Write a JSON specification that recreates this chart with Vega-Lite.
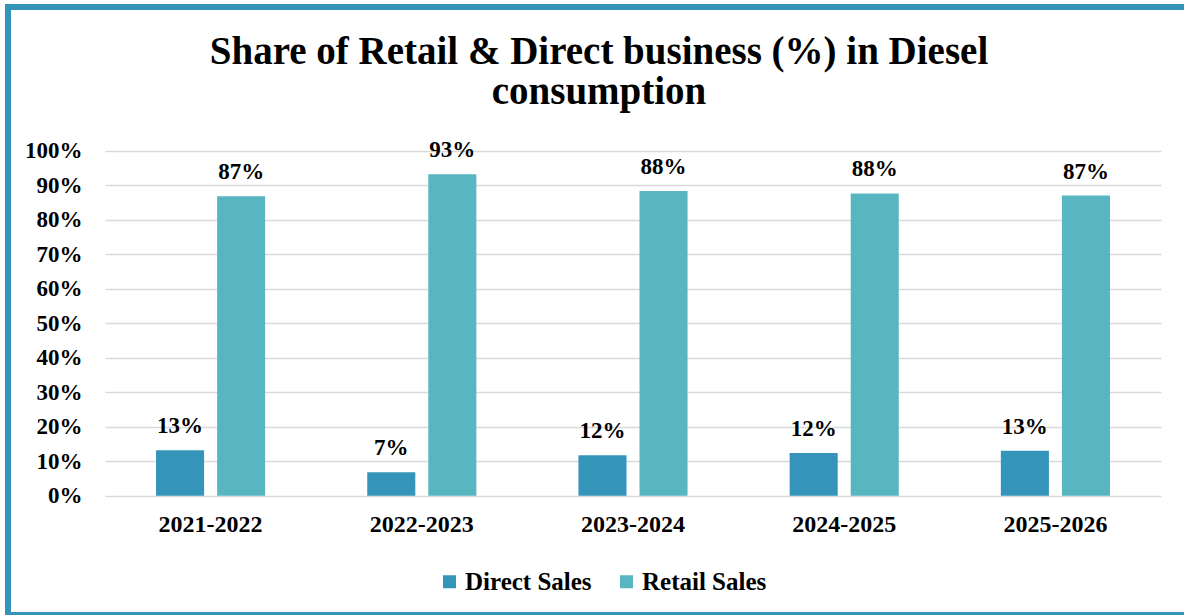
{
  "$schema": "https://vega.github.io/schema/vega-lite/v6.json",
  "autosize": {"type": "none"},
  "padding": {"left": 8, "top": 7, "right": 0, "bottom": 0},
  "width": 1182,
  "height": 608,
  "background": "white",
  "config": {
    "view": {"stroke": "#3494BA", "strokeWidth": 6},
    "font": "Liberation Serif"
  },
  "title": {
    "text": ["Share of Retail & Direct business (%) in Diesel", "consumption"],
    "font": "Liberation Serif",
    "fontSize": 39,
    "fontWeight": "bold",
    "color": "black",
    "anchor": "start",
    "align": "center",
    "frame": "group",
    "lineHeight": 40,
    "offset": -105,
    "dx": 591
  },
  "data": {
    "values": [
      {"year": "2021-2022", "series": "Direct Sales", "value": 0.132},
      {"year": "2021-2022", "series": "Retail Sales", "value": 0.868},
      {"year": "2022-2023", "series": "Direct Sales", "value": 0.068},
      {"year": "2022-2023", "series": "Retail Sales", "value": 0.932},
      {"year": "2023-2024", "series": "Direct Sales", "value": 0.117},
      {"year": "2023-2024", "series": "Retail Sales", "value": 0.883},
      {"year": "2024-2025", "series": "Direct Sales", "value": 0.124},
      {"year": "2024-2025", "series": "Retail Sales", "value": 0.876},
      {"year": "2025-2026", "series": "Direct Sales", "value": 0.130},
      {"year": "2025-2026", "series": "Retail Sales", "value": 0.870}
    ]
  },
  "encoding": {
    "x": {
      "field": "year",
      "type": "nominal",
      "sort": null,
      "scale": {"range": [97, 1153], "paddingInner": 0, "paddingOuter": 0},
      "axis": {
        "title": null,
        "orient": "bottom",
        "offset": -119.3,
        "labelAngle": 0,
        "labelFont": "Liberation Serif",
        "labelFontSize": 24,
        "labelFontWeight": "bold",
        "labelColor": "black",
        "labelPadding": 17,
        "domain": false,
        "ticks": false,
        "tickSize": 0,
        "grid": false
      }
    },
    "xOffset": {
      "field": "series",
      "type": "nominal",
      "scale": {"domain": ["Direct Sales", "Retail Sales"], "paddingInner": 0.213, "paddingOuter": 0.836}
    },
    "y": {
      "field": "value",
      "type": "quantitative",
      "scale": {"domain": [0, 1], "range": [488.7, 143.7], "nice": false, "zero": true},
      "axis": {
        "title": null,
        "offset": -74,
        "values": [0, 0.1, 0.2, 0.3, 0.4, 0.5, 0.6, 0.7, 0.8, 0.9, 1],
        "format": ".0%",
        "labelFont": "Liberation Serif",
        "labelFontSize": 23,
        "labelFontWeight": "bold",
        "labelColor": "black",
        "labelPadding": 0,
        "domain": false,
        "ticks": false,
        "tickSize": 0,
        "grid": true,
        "gridColor": "#D9D9D9",
        "gridWidth": 1.5
      }
    }
  },
  "layer": [
    {
      "mark": {"type": "bar", "clip": false},
      "encoding": {
        "color": {
          "field": "series",
          "type": "nominal",
          "scale": {"domain": ["Direct Sales", "Retail Sales"], "range": ["#3494BA", "#58B6C0"]},
          "legend": {
            "title": null,
            "orient": "none",
            "legendX": 429,
            "legendY": 562,
            "direction": "horizontal",
            "symbolType": "square",
            "symbolSize": 169,
            "symbolStrokeWidth": 0,
            "labelFont": "Liberation Serif",
            "labelFontSize": 25,
            "labelFontWeight": "bold",
            "labelColor": "black",
            "labelOffset": 3,
            "columnPadding": 22,
            "padding": 0
          }
        }
      }
    },
    {
      "mark": {
        "type": "text",
        "font": "Liberation Serif",
        "fontSize": 23,
        "fontWeight": "bold",
        "color": "black",
        "baseline": "alphabetic",
        "dy": -17
      },
      "encoding": {
        "text": {"field": "value", "type": "quantitative", "format": ".0%"}
      }
    }
  ]
}
